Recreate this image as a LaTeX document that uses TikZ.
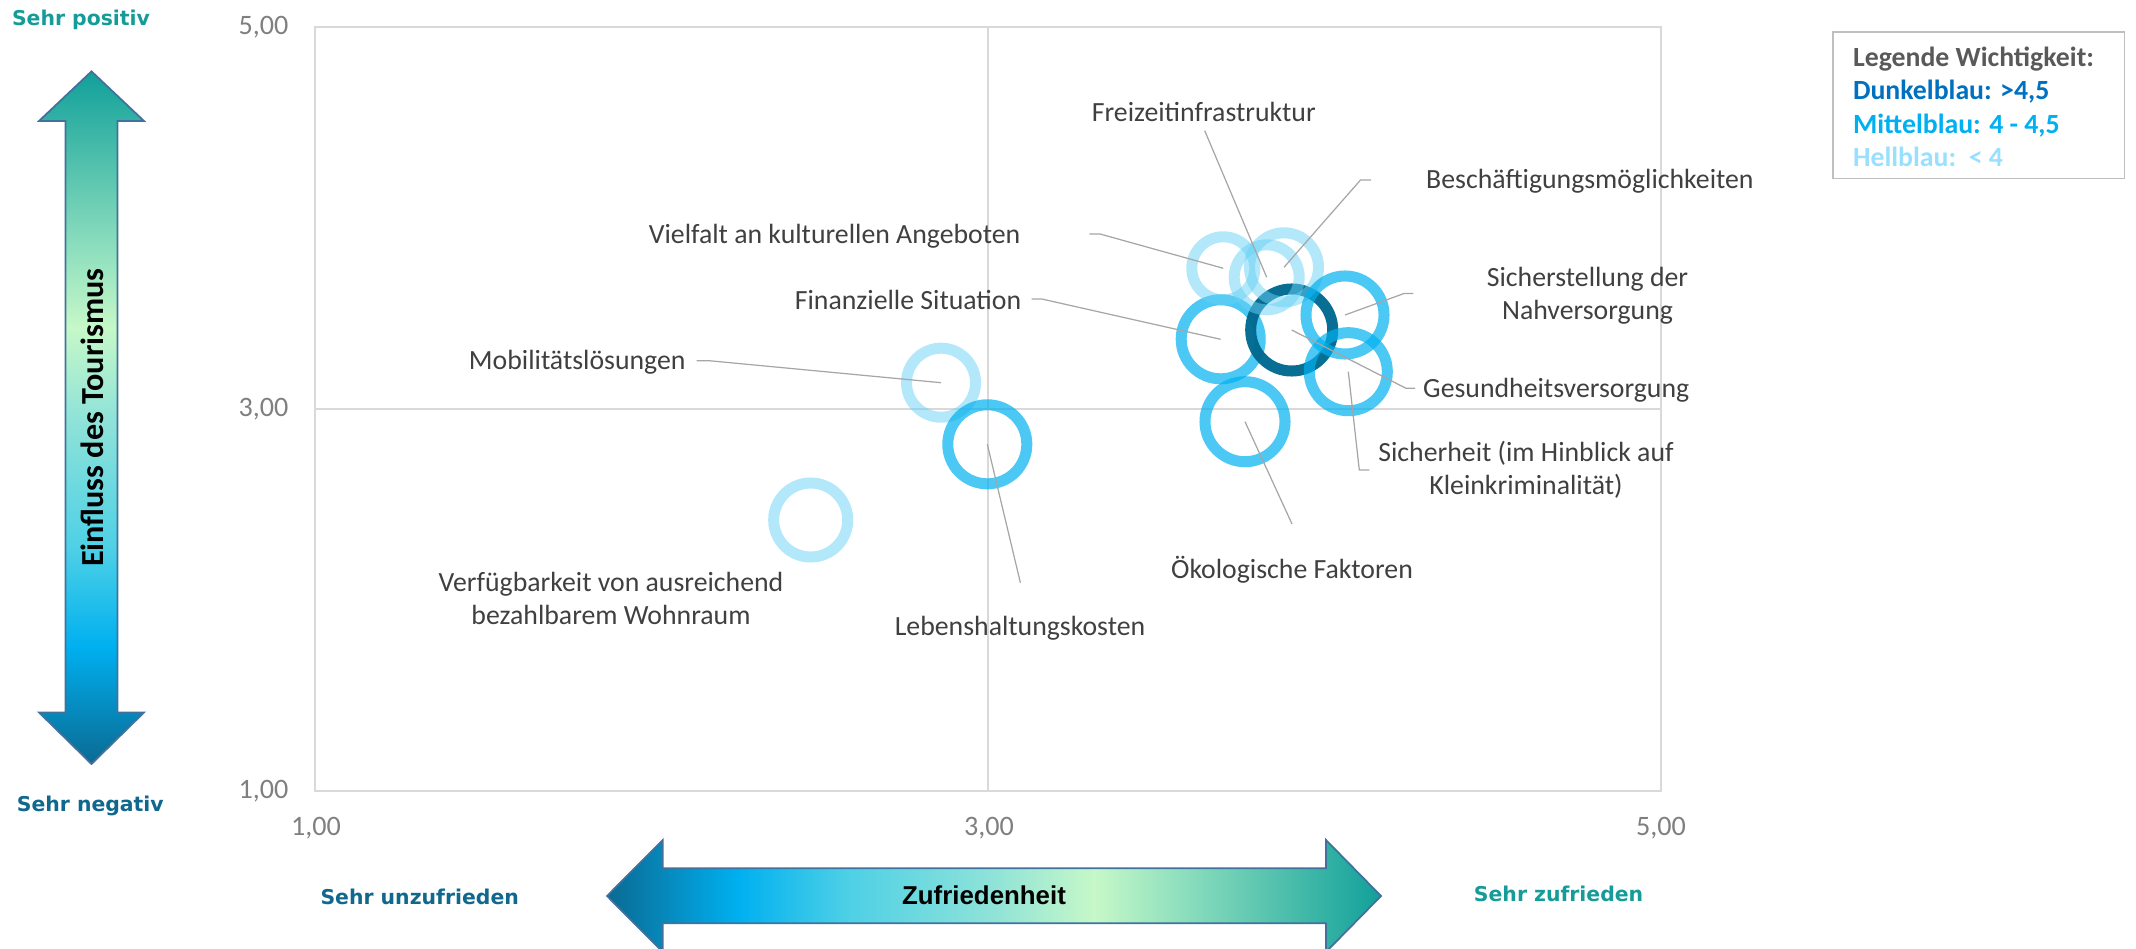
\documentclass[tikz,border=0pt]{standalone}
\usepackage{fontspec}
\setmainfont{Carlito}
\newfontfamily\verd{DejaVu Sans}
\newfontfamily\arialf{Liberation Sans}
\definecolor{lbl}{HTML}{404040}
\definecolor{tickc}{HTML}{7F7F7F}
\definecolor{gridc}{HTML}{D9D9D9}
\definecolor{leadc}{HTML}{A6A6A6}
\definecolor{lightb}{HTML}{67D1F5}
\definecolor{midb}{HTML}{00B0F0}
\definecolor{darkb}{HTML}{00698F}
\definecolor{posc}{HTML}{169C98}
\definecolor{negc}{HTML}{10698D}
\definecolor{legg}{HTML}{595959}
\definecolor{legd}{HTML}{0070C0}
\definecolor{legm}{HTML}{00B0F0}
\definecolor{legl}{HTML}{99E0FF}
\definecolor{legbord}{HTML}{BFBFBF}
\definecolor{arrline}{HTML}{41719C}
\definecolor{gA}{HTML}{0A6A93}
\definecolor{gB}{HTML}{00B0F0}
\definecolor{gC}{HTML}{4DD0E6}
\definecolor{gD}{HTML}{90E3D8}
\definecolor{gE}{HTML}{C6F8C8}
\definecolor{gF}{HTML}{8ADDBD}
\definecolor{gG}{HTML}{11A09A}
\pgfdeclarehorizontalshading{hzshade}{100bp}{color(0bp)=(gA); color(25bp)=(gA); color(33.5bp)=(gB); color(40.5bp)=(gC); color(50bp)=(gD); color(56.5bp)=(gE); color(62.5bp)=(gF); color(75bp)=(gG); color(100bp)=(gG)}
\pgfdeclareverticalshading{vtshade}{100bp}{color(0bp)=(gA); color(25bp)=(gA); color(33.5bp)=(gB); color(40.5bp)=(gC); color(50bp)=(gD); color(56.5bp)=(gE); color(62.5bp)=(gF); color(75bp)=(gG); color(100bp)=(gG)}
\tikzset{
  ring/.style={circle, inner sep=0pt, outer sep=0pt, line width=0.11cm},
  lightring/.style={ring, draw=lightb, draw opacity=0.5},
  midring/.style={ring, draw=midb, draw opacity=0.7},
  darkring/.style={ring, draw=darkb, draw opacity=0.97},
  leader/.style={draw=leadc, line width=0.35pt},
  lab/.style={font=\fontsize{7.9}{9.5}\selectfont, text=lbl, inner sep=0pt, align=center},
  tick/.style={font=\fontsize{8}{9.6}\selectfont, text=tickc, inner sep=0pt},
  gridline/.style={draw=gridc, line width=0.55pt},
  endlab/.style={font=\verd\bfseries\fontsize{5.8}{7}\selectfont, inner sep=0pt},
  bigarrow/.style={draw=arrline, line width=0.5pt},
  legtxt/.style={font=\fontsize{7.9}{9.5}\selectfont\bfseries, inner sep=0pt, anchor=base west},
  legframe/.style={draw=legbord, line width=0.45pt, inner sep=0pt, minimum width=2.91cm, minimum height=1.46cm}
}
\begin{document}
\begin{tikzpicture}[x=0.01cm, y=-0.01cm]
\useasboundingbox (0,0) rectangle (2136,949);
% plot area
\draw[gridline] (315,27) rectangle (1661,791);
\draw[gridline] (988,27) -- (988,791);
\draw[gridline] (315,409.3) -- (1661,409.3);
% ticks
\node[tick, anchor=east] (y5) at (289,27) {5,00};
\node[tick, anchor=east] (y3) at (289,409.3) {3,00};
\node[tick, anchor=east] (y1) at (289,791) {1,00};
\node[tick] (x1) at (316,828.3) {1,00};
\node[tick] (x3) at (989,828.3) {3,00};
\node[tick] (x5) at (1661,828.3) {5,00};
% rings
\node[lightring, minimum size=0.74cm] (verf) at (810.7,520) {};
\node[lightring, minimum size=0.69cm] (mobil) at (941,382.7) {};
\node[midring, minimum size=0.79cm] (leben) at (987.3,444.3) {};
\node[midring, minimum size=0.80cm] (oeko) at (1245,421.7) {};
\node[midring, minimum size=0.79cm] (finanz) at (1220.7,339.3) {};
\node[darkring, minimum size=0.82cm] (gesund) at (1291.7,330) {};
\node[lightring, minimum size=0.63cm] (vielfalt) at (1223.3,268.3) {};
\node[lightring, minimum size=0.65cm] (freizeit) at (1266.7,277.3) {};
\node[lightring, minimum size=0.69cm] (besch) at (1284,267.3) {};
\node[midring, minimum size=0.78cm] (nahv) at (1345,315) {};
\node[midring, minimum size=0.78cm] (sicher) at (1348.3,371.7) {};
% labels
\node[lab] (lfrei) at (1203.8,111.7) {Freizeitinfrastruktur};
\node[lab, anchor=west] (lbesch) at (1425.5,181.7) {Beschäftigungsmöglichkeiten};
\node[lab, anchor=east] (lviel) at (1021,236) {Vielfalt an kulturellen Angeboten};
\node[lab, anchor=east] (lfin) at (1022,300) {Finanzielle Situation};
\node[lab, anchor=east] (lmob) at (686.3,362.7) {Mobilitätslösungen};
\node[lab] (lverf) at (611,598.5) {Verfügbarkeit von ausreichend\\bezahlbarem Wohnraum};
\node[lab] (lleb) at (1020,628.3) {Lebenshaltungskosten};
\node[lab] (lnahv) at (1587.5,296) {Sicherstellung der\\Nahversorgung};
\node[lab, anchor=west] (lges) at (1422.5,390) {Gesundheitsversorgung};
\node[lab] (lsich) at (1526,470) {Sicherheit (im Hinblick auf\\Kleinkriminalität)};
\node[lab] (loeko) at (1292,570) {Ökologische Faktoren};
% leader points
\coordinate (pfrei) at (1204.7,130.7);
\coordinate (pbesch1) at (1371.2,180);
\coordinate (pbesch2) at (1360.5,180);
\coordinate (pviel1) at (1089.3,234);
\coordinate (pviel2) at (1100,234);
\coordinate (pfin1) at (1031.7,299);
\coordinate (pfin2) at (1041.7,299);
\coordinate (pmob1) at (696.6,360.7);
\coordinate (pmob2) at (709,360.7);
\coordinate (pleb) at (1020.4,582.8);
\coordinate (pnahv1) at (1413.3,293.5);
\coordinate (pnahv2) at (1404,293.5);
\coordinate (pges1) at (1406,388.3);
\coordinate (pges2) at (1415,388.3);
\coordinate (psich1) at (1359.3,470);
\coordinate (psich2) at (1369.3,470);
\coordinate (poeko) at (1292,524);
% leaders
\draw[leader] (pfrei) -- (freizeit.center);
\draw[leader] (pbesch1) -- (pbesch2) -- (besch.center);
\draw[leader] (pviel1) -- (pviel2) -- (vielfalt.center);
\draw[leader] (pfin1) -- (pfin2) -- (finanz.center);
\draw[leader] (pmob1) -- (pmob2) -- (mobil.center);
\draw[leader] (pleb) -- (leben.center);
\draw[leader] (pnahv1) -- (pnahv2) -- (nahv.center);
\draw[leader] (gesund.center) -- (pges1) -- (pges2);
\draw[leader] (sicher.center) -- (psich1) -- (psich2);
\draw[leader] (oeko.center) -- (poeko);
% vertical arrow
\shadedraw[bigarrow, shading=vtshade] (91.5,71.4) -- (144,121) -- (117.5,121) -- (117.5,712.4) -- (144,712.4) -- (91.5,764) -- (39,712.4) -- (65.5,712.4) -- (65.5,121) -- (39,121) -- cycle;
\node[rotate=90, inner sep=0pt, font=\fontsize{9.15}{11}\selectfont\bfseries] (einfl) at (92,417.6) {Einfluss des Tourismus};
% horizontal arrow
\shadedraw[bigarrow, shading=hzshade] (607,896) -- (662.8,840) -- (662.8,868.3) -- (1326,868.3) -- (1326,840) -- (1381,896) -- (1326,952) -- (1326,923.3) -- (662.8,923.3) -- (662.8,952) -- cycle;
\node[inner sep=0pt, font=\arialf\bfseries\fontsize{7.35}{9}\selectfont] (zufr) at (984,895) {Zufriedenheit};
% end labels
\node[endlab, text=posc] (spos) at (81,20) {Sehr positiv};
\node[endlab, text=negc] (sneg) at (90.3,805.5) {Sehr negativ};
\node[endlab, text=negc] (sunz) at (419.7,897) {Sehr unzufrieden};
\node[endlab, text=posc] (szuf) at (1558.6,894) {Sehr zufrieden};
% legend
\node[legframe] (legbox) at (1978.8,105.3) {};
\node[legtxt, text=legg] (leg1) at (1852.3,66.7) {Legende Wichtigkeit:};
\node[legtxt, text=legd] (leg2) at (1852.3,100) {Dunkelblau: >4,5};
\node[legtxt, text=legm] (leg3) at (1852.3,133.3) {Mittelblau: 4 - 4,5};
\node[legtxt, text=legl] (leg4) at (1852.3,166.7) {Hellblau:\ \ < 4};
\end{tikzpicture}
\end{document}
